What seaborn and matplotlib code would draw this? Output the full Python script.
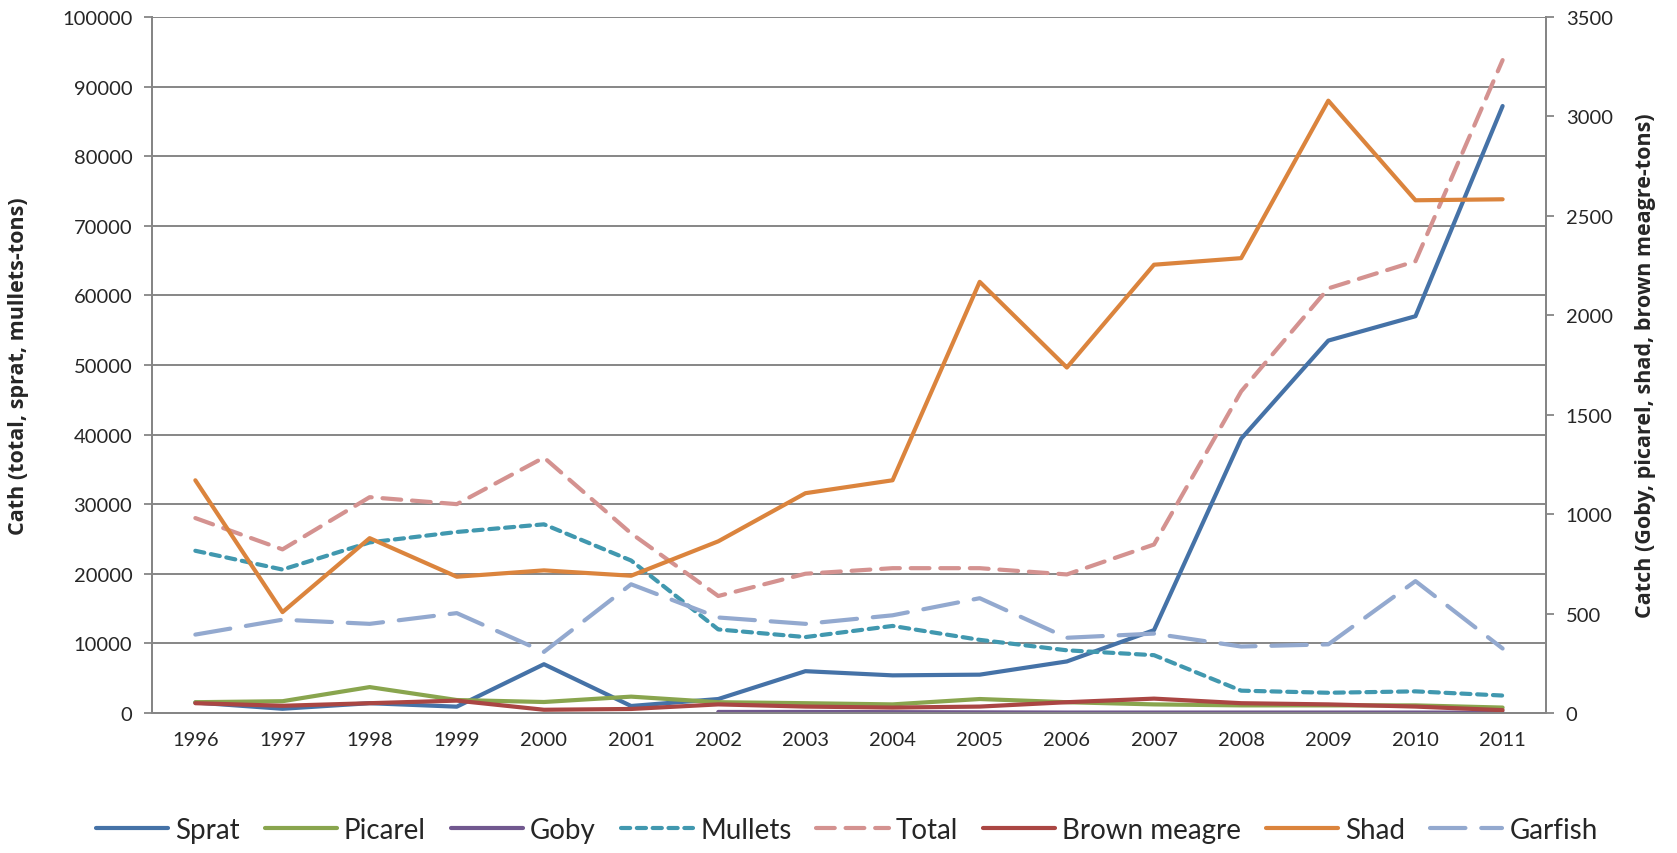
import numpy as np
import pandas as pd
import matplotlib
matplotlib.use("Agg")
import matplotlib.pyplot as plt
import seaborn as sns
from matplotlib.ticker import MultipleLocator, FixedLocator

years = list(range(1996, 2012))

# left axis (tons)
sprat = [1500, 600, 1400, 900, 7000, 1000, 2000, 6000, 5400, 5500, 7400, 11900, 39400, 53500, 57000, 87200]
mullets = [23300, 20600, 24500, 26000, 27100, 21900, 12000, 10900, 12500, 10500, 9000, 8300, 3200, 2900, 3100, 2500]
total = [28000, 23500, 31000, 30000, 36700, 25800, 16800, 20000, 20800, 20800, 19900, 24200, 46200, 61000, 64900, 93800]

# right axis (tons)
picarel = [54, 59, 130, 65, 55, 82, 54, 49, 43, 70, 54, 43, 38, 38, 38, 27]
goby = [np.nan] * 6 + [5, 5, 4, 3, 2, 2, 2, 2, 2, 1]
brown_meagre = [49, 36, 49, 62, 16, 20, 43, 32, 27, 32, 54, 72, 49, 43, 32, 14]
shad = [1170, 507, 879, 685, 717, 690, 863, 1105, 1170, 2168, 1737, 2254, 2287, 3079, 2578, 2583]
garfish = [394, 469, 448, 502, 307, 647, 480, 448, 491, 577, 378, 399, 334, 345, 663, 324]

sns.set_theme(style="white")
plt.rcParams["font.family"] = ["Lato", "DejaVu Sans"]

fig = plt.figure(figsize=(16.77, 8.54), dpi=100)
ax = fig.add_axes([0.0905, 0.164, 0.8315, 0.815])
ax2 = ax.twinx()

x = np.arange(len(years))
lw = 3.0

left_series = [
    ("Sprat", sprat, "#4572A7", "-"),
    ("Mullets", mullets, "#4198AF", (0, (2.2, 1.6))),
    ("Total", total, "#D49290", (0, (4.5, 2.6))),
]
right_series = [
    ("Picarel", picarel, "#89A54E", "-"),
    ("Goby", goby, "#71588F", "-"),
    ("Brown meagre", brown_meagre, "#AA4643", "-"),
    ("Garfish", garfish, "#93A9CF", (0, (8.5, 3.8))),
    ("Shad", shad, "#DB843D", "-"),
]

handles = {}
for name, vals, col, ls in left_series:
    sns.lineplot(x=x, y=vals, ax=ax, color=col, linewidth=lw, linestyle=ls,
                 solid_capstyle="round", dash_capstyle="round")
    handles[name] = ax.get_lines()[-1]
for name, vals, col, ls in right_series:
    sns.lineplot(x=x, y=vals, ax=ax2, color=col, linewidth=lw, linestyle=ls,
                 solid_capstyle="round", dash_capstyle="round")
    handles[name] = ax2.get_lines()[-1]

grid_col = "#868686"
ax.set_xlim(-0.5, 15.5)
ax.set_ylim(0, 100000)
ax2.set_ylim(0, 3500)
ax.yaxis.set_major_locator(MultipleLocator(10000))
ax2.yaxis.set_major_locator(MultipleLocator(500))
ax.grid(axis="y", color=grid_col, linewidth=1.4)
ax.set_axisbelow(True)

tick_fs = 14.5
ax.set_xticks(x)
ax.set_xticklabels([str(y) for y in years])
ax.xaxis.set_minor_locator(FixedLocator(np.arange(-0.5, 16, 1)))
ax.tick_params(axis="x", which="major", length=0, pad=13, labelsize=tick_fs)
ax.tick_params(axis="x", which="minor", length=6, width=1.3, color=grid_col, direction="out")
ax.tick_params(axis="y", length=6, width=1.3, color=grid_col, direction="out", labelsize=tick_fs, pad=8)
ax2.tick_params(axis="y", length=6, width=1.3, color=grid_col, direction="out", labelsize=tick_fs, pad=8)
ax.tick_params(left=True, bottom=True)
ax2.tick_params(right=True)

for a in (ax, ax2):
    a.spines["top"].set_visible(False)
    for side in ("left", "right", "bottom"):
        a.spines[side].set_color(grid_col)
        a.spines[side].set_linewidth(1.4)

label_font = dict(family=["Open Sans", "DejaVu Sans"], fontsize=15.5, fontweight="bold")
ax.set_ylabel("Cath (total, sprat, mullets-tons)", labelpad=24, **label_font)
ax2.set_ylabel("Catch (Goby, picarel, shad, brown meagre-tons)", labelpad=16, **label_font)
ax.set_xlabel("")

order = ["Sprat", "Picarel", "Goby", "Mullets", "Total", "Brown meagre", "Shad", "Garfish"]
for a in (ax, ax2):
    if a.get_legend() is not None:
        a.get_legend().remove()
fig.legend([handles[n] for n in order], order, loc="center", bbox_to_anchor=(0.505, 0.027),
           ncol=8, frameon=False, fontsize=20, handlelength=2.6, columnspacing=0.9,
           handletextpad=0.25)

fig.savefig("out.png", dpi=100)
